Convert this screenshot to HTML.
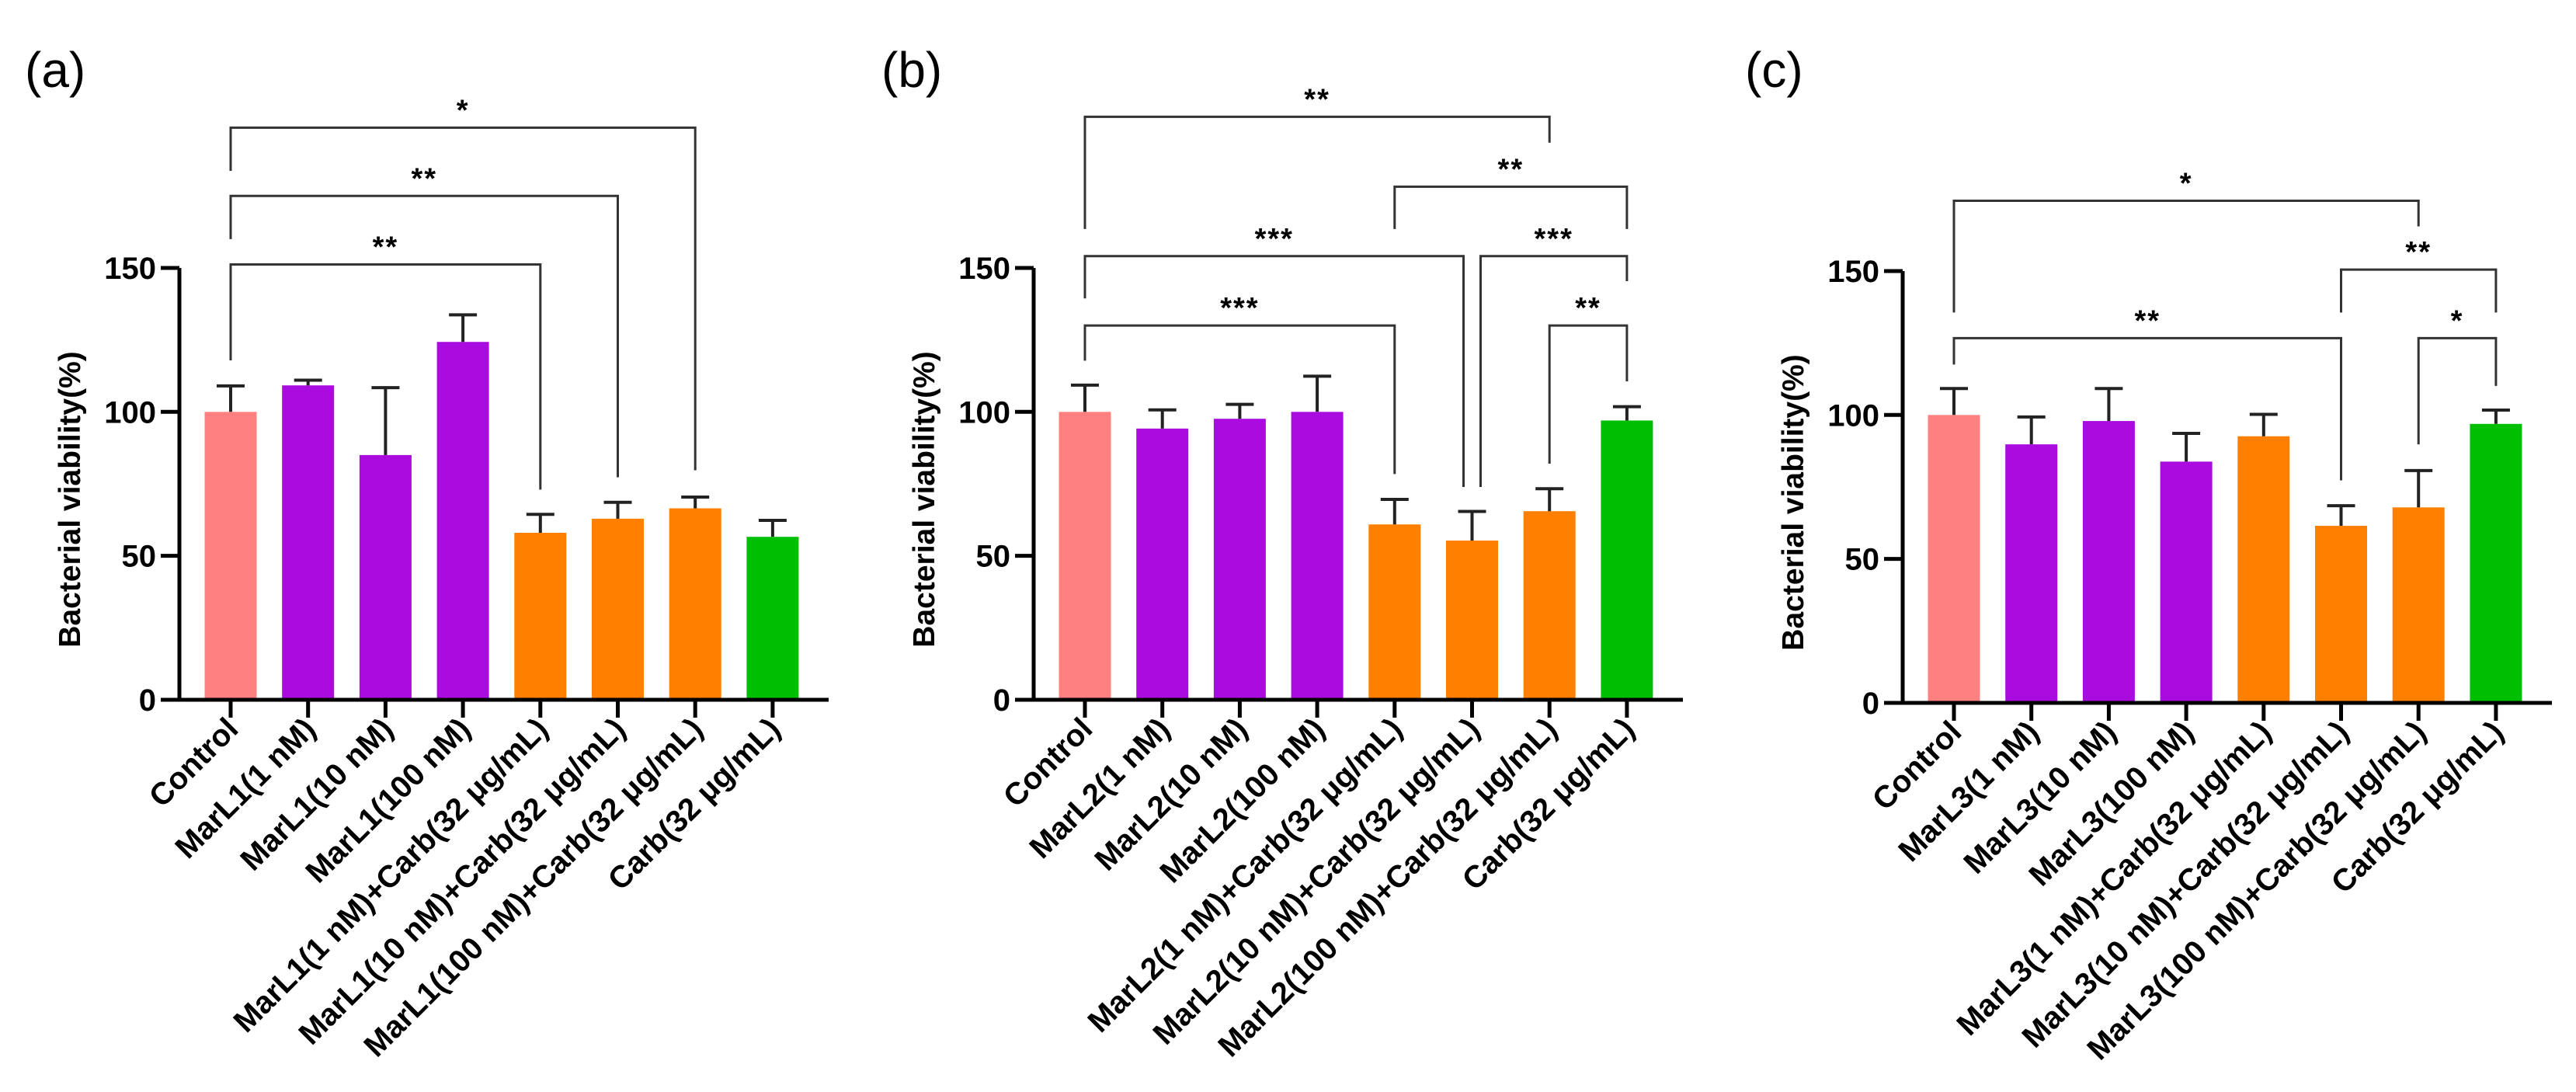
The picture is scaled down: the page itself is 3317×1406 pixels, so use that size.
<!DOCTYPE html>
<html><head><meta charset="utf-8">
<style>
html,body{margin:0;padding:0;background:#fff;}
svg{display:block;font-family:"Liberation Sans",Arial,sans-serif;}
</style></head>
<body>
<svg id="fig" width="3317" height="1406" viewBox="0 0 3317 1406" xmlns="http://www.w3.org/2000/svg"></svg>
<script>
const colors = ['#FF8080','#AA0CE0','#AA0CE0','#AA0CE0','#FF8000','#FF8000','#FF8000','#00BF00'];
const catsA = ['Control','MarL1(1 nM)','MarL1(10 nM)','MarL1(100 nM)','MarL1(1 nM)+Carb(32 μg/mL)','MarL1(10 nM)+Carb(32 μg/mL)','MarL1(100 nM)+Carb(32 μg/mL)','Carb(32 μg/mL)'];
const catsB = ['Control','MarL2(1 nM)','MarL2(10 nM)','MarL2(100 nM)','MarL2(1 nM)+Carb(32 μg/mL)','MarL2(10 nM)+Carb(32 μg/mL)','MarL2(100 nM)+Carb(32 μg/mL)','Carb(32 μg/mL)'];
const catsC = ['Control','MarL3(1 nM)','MarL3(10 nM)','MarL3(100 nM)','MarL3(1 nM)+Carb(32 μg/mL)','MarL3(10 nM)+Carb(32 μg/mL)','MarL3(100 nM)+Carb(32 μg/mL)','Carb(32 μg/mL)'];
const valuesA = [100,109.2,85,124.3,58,62.9,66.5,56.6];
const errA    = [9,1.8,23.4,9.4,6.4,5.7,3.9,5.7];
const valuesB = [100,94.2,97.6,100,60.9,55.3,65.5,97];
const errB    = [9.3,6.5,5,12.4,8.7,10.1,7.8,4.8];
const valuesC = [100,89.8,97.9,83.8,92.6,61.5,67.9,96.9];
const errC    = [9.2,9.5,11.3,9.8,7.6,7,12.8,4.8];
const yTicks = [0,50,100,150];
// brackets: [from, to, lineValue, leftEndValue, rightEndValue, label, fromShift, toShift]
const bracketsA = [[0,6,198.7,183.7,79.7,'*',0,0],[0,5,175,160,77.3,'**',0,0],[0,4,151.2,117.9,73,'**',0,0]];
const bracketsB = [[0,6,202.5,163.5,193.5,'**',0,0],[4,7,178.2,163.5,163.5,'**',0,0],[0,5,154.1,139.4,73.9,'***',0,-11],[5,7,154.1,73.9,145.4,'***',11,0],[0,4,130,117.8,78.4,'***',0,0],[6,7,130,82,110.6,'**',0,0]];
const bracketsC = [[0,6,174.4,135.6,165.5,'*',0,0],[5,7,150.5,135.6,135.6,'**',0,0],[0,5,126.7,117.5,77.3,'**',0,0],[6,7,126.7,89.8,110.1,'*',0,0]];

const NS='http://www.w3.org/2000/svg';
const svg=document.getElementById('fig');
function mk(tag,attrs,parent){const e=document.createElementNS(NS,tag);for(const k in attrs)e.setAttribute(k,attrs[k]);(parent||svg).appendChild(e);return e;}

function panel(id,letter,axisX,y0,cats,vals,errs,brackets,labelX){
  const g=mk('g',{});
  
  
  const k=3.707;
  const y=v=>y0-v*k;
  const x=i=>axisX+66+i*99.7;
  const bw=67;
  const lab=mk('text',{x:labelX,y:112,'font-size':64,fill:'#000'},g);
  lab.textContent='('+letter+')';
  
  
  vals.forEach((v,i)=>{
    const r=mk('rect',{x:x(i)-bw/2,y:y(v),width:bw,height:y(0)-y(v),fill:colors[i]},g);
    
    
    const e=mk('path',{d:`M${x(i)},${y(v)}V${y(v+errs[i])}M${x(i)-18},${y(v+errs[i])}H${x(i)+18}`,stroke:'#222','stroke-width':4,fill:'none'},g);
    
    
  });
  const ya=mk('path',{d:`M${axisX},${y(150)}V${y(0)+2}`,stroke:'#000','stroke-width':5,fill:'none'},g);
  
  
  yTicks.forEach(t=>{
    mk('path',{d:`M${axisX-24},${y(t)}H${axisX}`,stroke:'#000','stroke-width':5},g);
    const tl=mk('text',{x:axisX-30,y:y(t)+14,'font-size':40,'font-weight':'bold','text-anchor':'end'},g);
    tl.textContent=t;
    
    
  });
  const xa=mk('path',{d:`M${axisX-2},${y(0)}H${axisX+836}`,stroke:'#000','stroke-width':5},g);
  
  
  cats.forEach((c,i)=>{
    mk('path',{d:`M${x(i)},${y(0)}V${y(0)+23}`,stroke:'#000','stroke-width':5},g);
    const t=mk('text',{transform:`translate(${x(i)+12},${y(0)+40}) rotate(-45)`,'font-size':40,'font-weight':'bold','text-anchor':'end'},g);
    t.textContent=c;
    
    
  });
  const yt=mk('text',{transform:`translate(${axisX-128},${(y(0)+y(150))/2+20}) rotate(-90)`,'font-size':39,'font-weight':'bold','text-anchor':'middle'},g);
  yt.textContent='Bacterial viability(%)';
  
  
  brackets.forEach(b=>{
    const xl=x(b[0])+b[6], xr=x(b[1])+b[7];
    const p=mk('path',{d:`M${xl},${y(b[3])}V${y(b[2])}H${xr}V${y(b[4])}`,stroke:'#333','stroke-width':3,fill:'none'},g);
    
    
    const s=mk('text',{x:(xl+xr)/2,y:y(b[2])-10,'font-size':38,'font-weight':'bold','text-anchor':'middle','letter-spacing':2},g);
    s.textContent=b[5];
    
    
  });
}
panel('a','a',231,901,catsA,valuesA,errA,bracketsA,32);
panel('b','b',1331,901,catsB,valuesB,errB,bracketsB,1135);
panel('c','c',2450,905,catsC,valuesC,errC,bracketsC,2247);
</script>
</body></html>
